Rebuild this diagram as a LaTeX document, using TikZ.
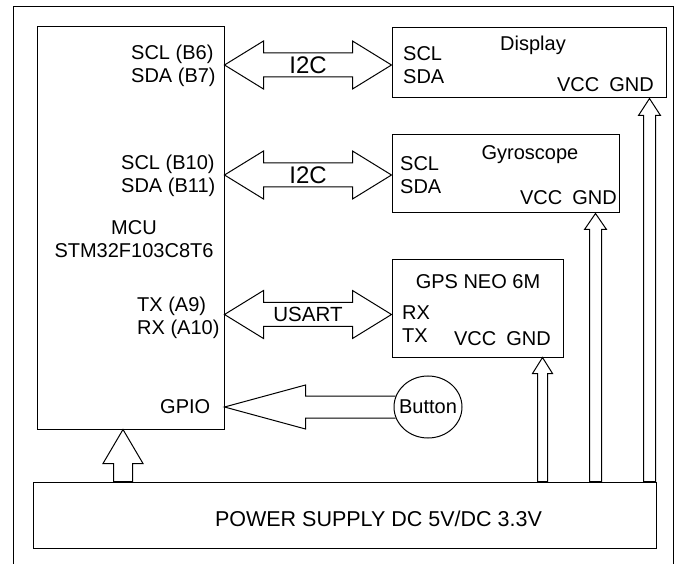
\documentclass[tikz,border=0pt]{standalone}
\usepackage{fontspec}
\setmainfont{Liberation Sans}
\usetikzlibrary{shapes.geometric,calc}

% hollow two-headed bus arrow: left tip, right tip, label name, label size, label text
\newcommand{\busarrow}[5]{%
  \draw[blockarrow] (#1) -- ++(39,-24) -- ++(0,12) -- ($(#2)+(-39,-12)$) -- ++(0,-12) -- (#2)
    -- ++(-39,24) -- ++(0,-12) -- ($(#1)+(39,12)$) -- ++(0,12) -- cycle;
  \node[buslabel=#4] (#3) at ($(#1)!0.5!(#2)$) {#5};}
% hollow supply arrow from the power box: tip, head half width, shaft half width, head length
\newcommand{\pwrarrow}[4]{%
  \draw[blockarrow] (#1) -- ++(-#2,#4) -- ++({#2-#3},0) -- ($(#1 |- psu.north)+(-#3,0)$)
    -- ($(#1 |- psu.north)+(#3,0)$) -- ($(#1)+(#3,#4)$) -- ++({#2-#3},0) -- cycle;}

\begin{document}
\begin{tikzpicture}[x=1pt,y=-1pt,
  box/.style={draw,line width=1pt,inner sep=0pt},
  blockarrow/.style={draw,line width=1pt,line join=miter},
  lbl/.style={font=\fontsize{20}{23}\selectfont,inner sep=0pt,align=left},
  buslabel/.style={font=\fontsize{#1}{24}\selectfont,inner sep=0pt},
  psutext/.style={font=\fontsize{21.5}{24}\selectfont,inner sep=0pt}]
  \useasboundingbox (0,0) rectangle (678,564);
  % outer frame, open at the bottom
  \draw[line width=1pt] (13,564) -- (13,7) -- (673,7) -- (673,564);

  % blocks
  \node[box,minimum width=187pt,minimum height=402pt] (mcu) at (130.5,228) {};
  \node[box,minimum width=274pt,minimum height=70pt] (disp) at (529,63) {};
  \node[box,minimum width=227pt,minimum height=78pt] (gyro) at (505.5,174) {};
  \node[box,minimum width=171pt,minimum height=97pt] (gps) at (477.5,308.5) {};
  \node[box,ellipse,minimum width=68pt,minimum height=62pt] (btn) at (428,407) {};
  \node[box,minimum width=623pt,minimum height=66pt] (psu) at (344.5,515) {};

  % MCU pins
  \node[lbl,anchor=west] (mcuI2Ca) at (131,66) {SCL (B6)\\SDA (B7)};
  \node[lbl,anchor=west] (mcuI2Cb) at (121,176) {SCL (B10)\\SDA (B11)};
  \node[lbl,align=center] (mcuName) at (134,239) {MCU\\STM32F103C8T6};
  \node[lbl,anchor=west] (mcuUart) at (137,317.5) {TX (A9)\\RX (A10)};
  \node[lbl,anchor=west] (mcuGpio) at (160,407) {GPIO};

  % Display
  \node[lbl,anchor=base] (dispName) at (533,51) {Display};
  \node[lbl,anchor=west] (dispBus) at (403,65) {SCL\\SDA};
  \node[lbl,anchor=base east] (dispPwr) at (654,92) {VCC\enspace GND};

  % Gyroscope
  \node[lbl,anchor=base] (gyroName) at (530,160) {Gyroscope};
  \node[lbl,anchor=west] (gyroBus) at (400,175) {SCL\\SDA};
  \node[lbl,anchor=base east] (gyroPwr) at (617,205) {VCC\enspace GND};

  % GPS
  \node[lbl,anchor=base] (gpsName) at (478,289) {GPS NEO 6M};
  \node[lbl,anchor=west] (gpsBus) at (402,324) {RX\\TX};
  \node[lbl,anchor=base east] (gpsPwr) at (551,345) {VCC\enspace GND};

  \node[lbl] (btnText) at (btn) {Button};
  \node[psutext,anchor=base] (psuText) at (378.5,526) {POWER SUPPLY DC 5V/DC 3.3V};

  % bus connections
  \coordinate (dispIn) at ([yshift=-2pt]disp.west);
  \coordinate (gyroIn) at ([yshift=-1pt]gyro.west);
  \coordinate (gpsIn) at ([yshift=-6pt]gps.west);
  \busarrow{mcu.east |- dispIn}{dispIn}{busA}{24}{I2C}
  \busarrow{mcu.east |- gyroIn}{gyroIn}{busB}{24}{I2C}
  \busarrow{mcu.east |- gpsIn}{gpsIn}{busC}{20.5}{USART}

  % button to GPIO
  \coordinate (gpioIn) at (mcu.east |- btn.west);
  \draw[blockarrow] ($(btn.west)+(2,-11)$) -- ($(gpioIn)+(81,-11)$) -- ++(0,-11) -- (gpioIn)
    -- ++(81,22) -- ++(0,-11) -- ($(btn.west)+(2,11)$);

  % supply lines
  \coordinate (mcuPwr) at ([xshift=-7.5pt]mcu.south);
  \coordinate (gpsP) at ([xshift=-21pt]gps.south east);
  \coordinate (gyroP) at ([xshift=-24pt]gyro.south east);
  \coordinate (dispP) at ([xshift=-17pt]disp.south east);
  \pwrarrow{mcuPwr}{20}{9.5}{34}
  \pwrarrow{gpsP}{10}{5}{16}
  \pwrarrow{gyroP}{11}{6}{16}
  \pwrarrow{dispP}{11}{6}{17}
\end{tikzpicture}
\end{document}
